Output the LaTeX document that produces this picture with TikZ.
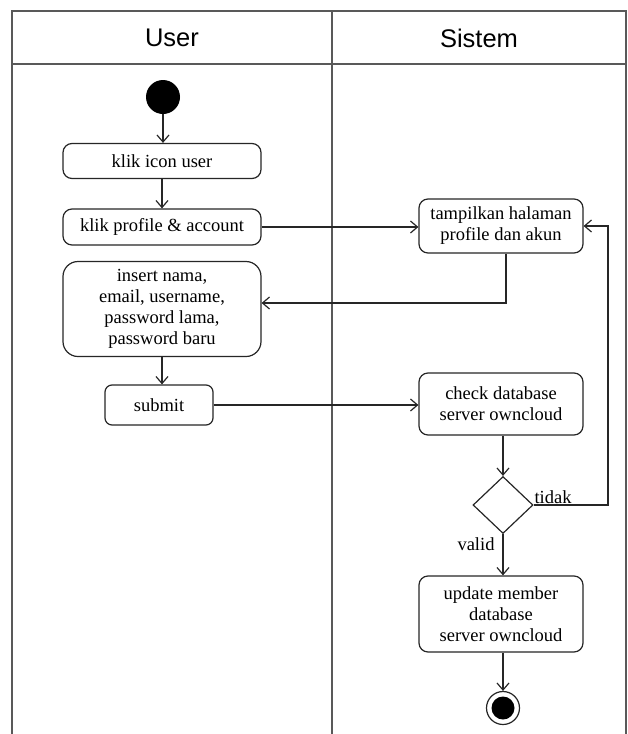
\documentclass[tikz,border=0pt]{standalone}
\usepackage{fontspec}
\setmainfont{Liberation Serif}
\newfontfamily\headfont{Liberation Sans}
\usetikzlibrary{arrows.meta,shapes.geometric,calc}

\tikzset{
  lane/.style={draw=black!65, line width=1.4pt},
  act/.style={draw=black!85, line width=1.2pt, rounded corners=9pt, fill=white,
    align=center, inner sep=0pt, font=\fontsize{18.5}{21}\selectfont},
  flow/.style={draw=black!85, line width=1.2pt,
    -{Straight Barb[length=7pt,width=12pt,line width=1.2pt]}},
  link/.style={draw=black!85, line width=1.2pt},
  lbl/.style={font=\fontsize{18.5}{21}\selectfont, inner sep=0pt},
  head/.style={font=\headfont\fontsize{25.5}{28}\selectfont, inner sep=0pt},
}

\begin{document}
\begin{tikzpicture}[x=1pt,y=-1pt]
  \useasboundingbox (0,0) rectangle (628,734);

  % swimlanes
  \draw[lane] (12,738) -- (12,11) -- (626,11) -- (626,738);
  \draw[lane] (12,64) -- (626,64);
  \draw[lane] (332,11) -- (332,738);
  \node[head] (hUser) at (172,38) {User};
  \node[head] (hSys) at (479,38) {Sistem};

  % user lane
  \node[circle, fill=black, minimum size=34pt, inner sep=0pt] (start) at (163,97) {};
  \node[act, minimum width=198pt, minimum height=35pt] (n1) at (162,161) {klik icon user};
  \node[act, minimum width=198pt, minimum height=36pt] (n2) at (162,227) {klik profile \& account};
  \node[act, rounded corners=15pt, minimum width=198pt, minimum height=95pt] (n3) at (162,309)
    {insert nama,\\email, username,\\password lama,\\password baru};
  \node[act, rounded corners=7pt, minimum width=108pt, minimum height=40pt] (n4) at (159,405) {submit};

  % system lane
  \node[act, minimum width=164pt, minimum height=54pt] (s1) at (501,226)
    {tampilkan halaman\\profile dan akun};
  \node[act, minimum width=164pt, minimum height=62pt] (s2) at (501,404)
    {check database\\server owncloud};
  \node[diamond, draw=black!85, line width=1.2pt, minimum width=60pt, minimum height=57pt,
    inner sep=0pt] (d) at (503,505) {};
  \node[act, minimum width=164pt, minimum height=76pt] (s3) at (501,614)
    {update member\\database\\server owncloud};
  \node[circle, draw=black!85, line width=1.2pt, minimum size=33pt, inner sep=0pt] (endo) at (503,708) {};
  \node[circle, fill=black, minimum size=23pt, inner sep=0pt] (endi) at (503,708) {};

  \coordinate (loop) at (608,0);

  % flows
  \draw[flow] (start) -- (start |- n1.north);
  \draw[flow] (n1) -- (n2);
  \draw[flow] (n2.east) -- (s1.west |- n2.east);
  \draw[flow] ([xshift=5pt]s1.south) |- ([yshift=6pt]n3.east);
  \draw[flow] (n3.south -| 162,0) -- (162,0 |- n4.north);
  \draw[flow] (n4.east) -- (s2.west |- n4.east);
  \draw[flow] (s2.south -| d.north) -- (d.north);
  \draw[flow] (d.east) -- (loop |- d.east) -- (loop |- s1.east) -- (s1.east);
  \draw[flow] (d.south) -- (s3.north -| d.south);
  \draw[flow] (s3.south -| endo.north) -- (endo.north);

  % guards
  \node[lbl] (gNo) at (553,497) {tidak};
  \node[lbl] (gYes) at (476,544) {valid};
\end{tikzpicture}
\end{document}
